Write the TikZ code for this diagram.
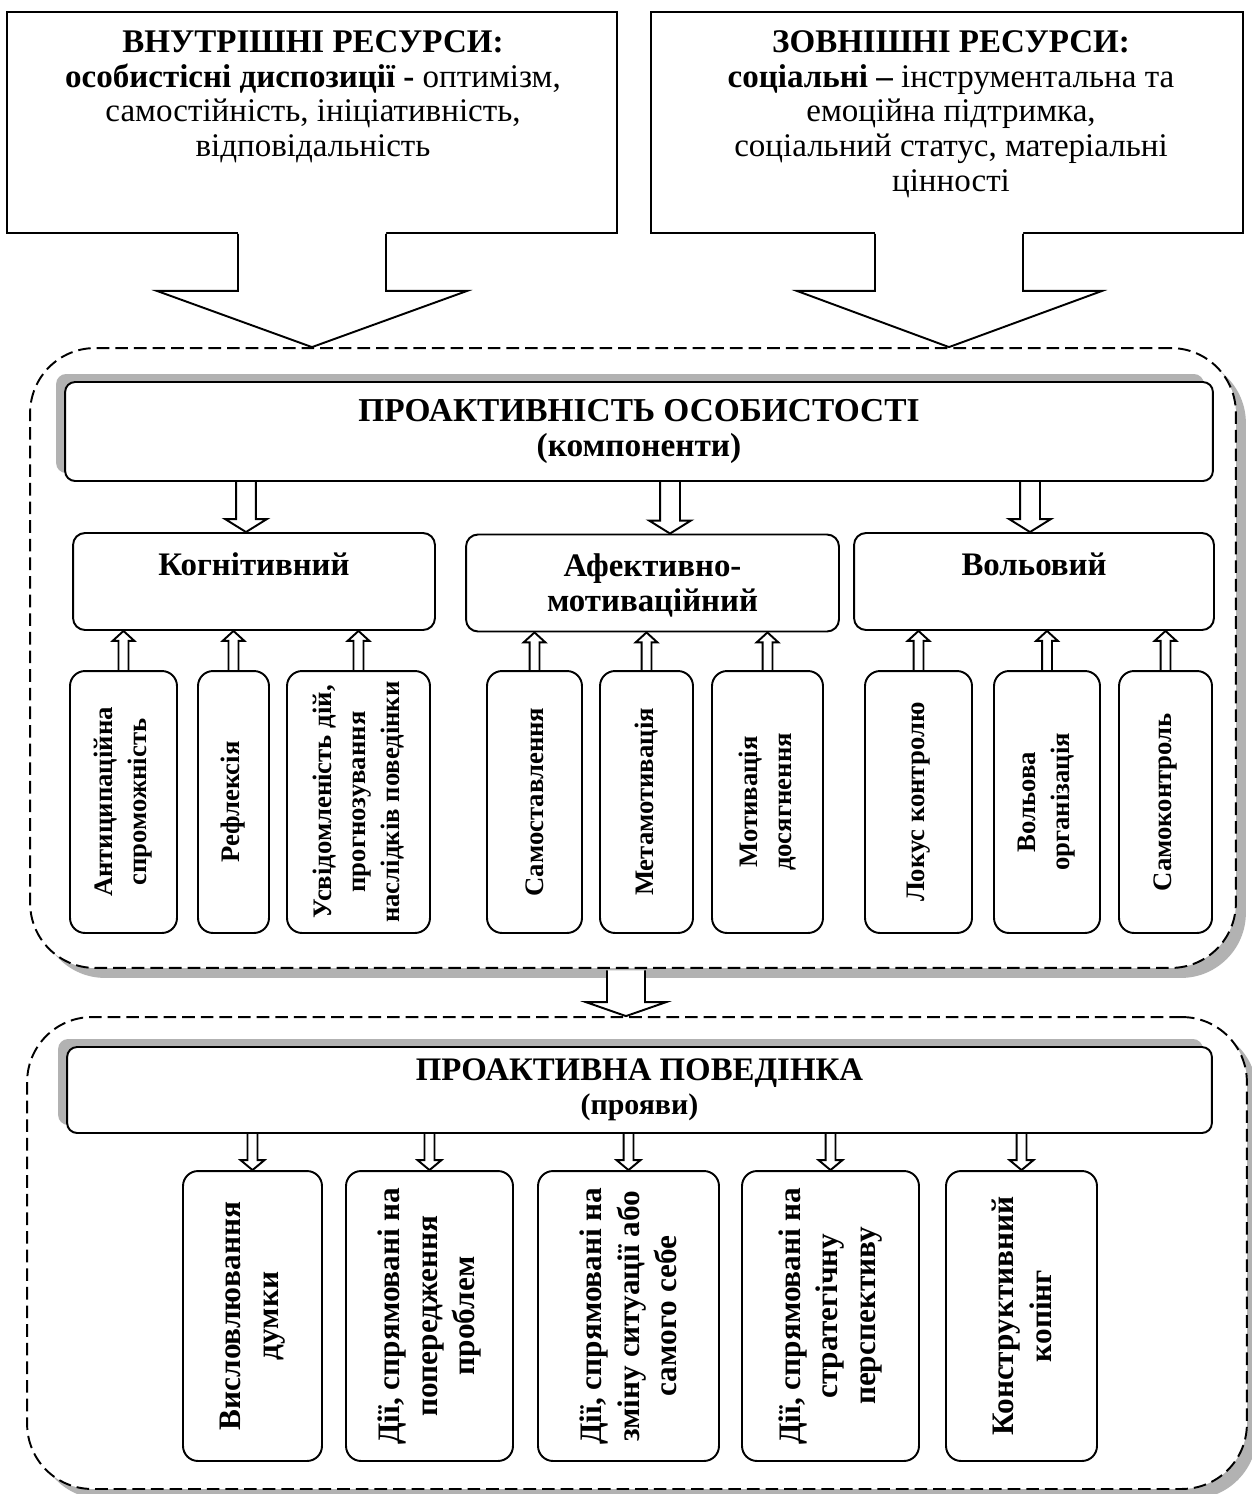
\documentclass[tikz,border=0pt]{standalone}
\usepackage{fontspec}
\setmainfont{Liberation Serif}
\usetikzlibrary{calc,shadows}
\newcommand{\fsz}[2]{\fontsize{#1}{#2}\selectfont}
\newcommand{\blockarrow}[6][]{%
  \draw[barr,#1] let \p1=#2, \p2=#3, \n1={sign(\y2-\y1)} in
    ({\x2-#4},{\y1}) -- ({\x2-#4},{\y2-(\n1)*#6}) -- ({\x2-#5},{\y2-(\n1)*#6}) -- (\x2,\y2)
    -- ({\x2+#5},{\y2-(\n1)*#6}) -- ({\x2+#4},{\y2-(\n1)*#6}) -- ({\x2+#4},{\y1});}
\tikzset{
 box/.style={draw, line width=1.1pt, fill=white, inner sep=0pt},
 topbox/.style={box, minimum height=4.42cm},
 toptxt/.style={align=center, inner sep=0pt, font=\fsz{18.8}{19.8}},
 hdr/.style={box, rounded corners=0.2cm, align=center,
   drop shadow={shadow xshift=-0.18cm, shadow yshift=0.16cm, opacity=1, fill=black!30}},
 comp/.style={box, rounded corners=0.24cm, minimum height=1.94cm},
 comptxt/.style={align=center, inner sep=0pt, font=\fsz{18.7}{19.8}\bfseries},
 leaf/.style={box, rounded corners=0.3cm},
 leafA/.style={leaf, minimum height=5.24cm},
 leafB/.style={leaf, minimum height=5.8cm},
 leaftxtA/.style={rotate=90, align=center, inner sep=0pt, font=\fsz{15.2}{19.3}\bfseries},
 leaftxtB/.style={rotate=90, align=center, inner sep=0pt, font=\fsz{17.8}{21.5}\bfseries},
 cont/.style={draw, line width=1.1pt, dash pattern=on 7.2pt off 3.4pt, fill=white,
   rounded corners=1.3cm, inner sep=0pt,
   drop shadow={shadow xshift=0.2cm, shadow yshift=-0.2cm, opacity=1, fill=black!30}},
 barr/.style={draw, line width=1.1pt, line join=miter},
}
\begin{document}
\begin{tikzpicture}[x=0.02cm,y=-0.02cm]
\useasboundingbox[fill=white] (0,0) rectangle (1251,1494);

% containers
\node[cont, minimum width=24.12cm, minimum height=12.4cm] (cont1) at (633,658) {};
\node[cont, minimum width=24.4cm, minimum height=9.44cm] (cont2) at (637,1253) {};

% top resource boxes
\node[topbox, minimum width=12.2cm] (inres) at (312,122.5) {};
\node[toptxt, anchor=north] (inrestxt) at (313,30) {{\bfseries ВНУТРІШНІ РЕСУРСИ:}\\
  {\bfseries особистісні диспозиції -} оптимізм,\\
  самостійність, ініціативність,\\
  відповідальність};
\node[topbox, minimum width=11.84cm] (exres) at (947,122.5) {};
\node[toptxt, anchor=north] (exrestxt) at (951,30) {{\bfseries ЗОВНІШНІ РЕСУРСИ:}\\
  {\bfseries соціальні –} інструментальна та\\
  емоційна підтримка,\\
  соціальний статус, матеріальні\\
  цінності};

% callout arrows
\fill[white] ($(inres.south)+(-74,-2)$) -- ++(0,59) -- ++(-81,0) -- (inres.south |- cont1.north)
  -- ($(inres.south)+(155,57)$) -- ++(-81,0) -- ++(0,-59) -- cycle;
\draw[barr] ($(inres.south)+(-74,0)$) -- ++(0,57) -- ++(-81,0) -- (inres.south |- cont1.north)
  -- ($(inres.south)+(155,57)$) -- ++(-81,0) -- ++(0,-57);
\fill[white] ($(exres.south)+(-72,-2)$) -- ++(0,59) -- ++(-78,0) -- ($(exres.south |- cont1.north)+(2,0)$)
  -- ($(exres.south)+(155,57)$) -- ++(-79,0) -- ++(0,-59) -- cycle;
\draw[barr] ($(exres.south)+(-72,0)$) -- ++(0,57) -- ++(-78,0) -- ($(exres.south |- cont1.north)+(2,0)$)
  -- ($(exres.south)+(155,57)$) -- ++(-79,0) -- ++(0,-57);

% header 1
\node[hdr, minimum width=22.96cm, minimum height=1.98cm, font=\fsz{19}{19.8}\bfseries] (prop)
  at (639,431.5) {ПРОАКТИВНІСТЬ ОСОБИСТОСТІ\\(компоненти)};

% components
\node[comp, minimum width=7.24cm] (cog) at (254,581.5) {};
\node[comptxt, anchor=north] (cogt) at ($(cog.north)+(0,20)$) {Когнітивний};
\node[comp, minimum width=7.46cm] (aff) at (652.5,583) {};
\node[comptxt, anchor=north] (afft) at ($(aff.north)+(0,20)$) {Афективно-\\мотиваційний};
\node[comp, minimum width=7.2cm] (vol) at (1034,581.5) {};
\node[comptxt, anchor=north] (volt) at ($(vol.north)+(0,20)$) {Вольовий};

\blockarrow{(prop.south)}{($(cog.north)+(-8,0)$)}{5.67pt}{11.9pt}{7.4pt}
\blockarrow{(prop.south)}{($(aff.north)+(17.5,0)$)}{5.67pt}{11.9pt}{7.4pt}
\blockarrow{(prop.south)}{($(vol.north)+(-4,0)$)}{5.67pt}{11.9pt}{7.4pt}

% leaves row 1
\node[leafA, minimum width=2.14cm] (ant) at (123.5,802) {};
\node[leaftxtA] (antt) at (ant.center) {Антиципаційна\\спроможність};
\node[leafA, minimum width=1.42cm] (ref) at (233.5,802) {};
\node[leaftxtA] (reft) at (ref.center) {Рефлексія};
\node[leafA, minimum width=2.86cm] (usv) at (358.5,802) {};
\node[leaftxtA] (usvt) at (usv.center) {Усвідомленість дій,\\прогнозування\\наслідків поведінки};
\node[leafA, minimum width=1.9cm] (sst) at (534.5,802) {};
\node[leaftxtA] (sstt) at (sst.center) {Самоставлення};
\node[leafA, minimum width=1.86cm] (met) at (646.5,802) {};
\node[leaftxtA] (mett) at (met.center) {Метамотивація};
\node[leafA, minimum width=2.22cm] (mot) at (767.5,802) {};
\node[leaftxtA] (mott) at (mot.center) {Мотивація\\досягнення};
\node[leafA, minimum width=2.14cm] (lok) at (918.5,802) {};
\node[leaftxtA] (lokt) at (lok.center) {Локус контролю};
\node[leafA, minimum width=2.12cm] (vor) at (1047,802) {};
\node[leaftxtA] (vort) at (vor.center) {Вольова\\організація};
\node[leafA, minimum width=1.86cm] (skn) at (1165.5,802) {};
\node[leaftxtA] (sknt) at (skn.center) {Самоконтроль};

\foreach \l/\c in {ant/cog, ref/cog, usv/cog, sst/aff, met/aff, mot/aff, lok/vol, vor/vol, skn/vol}{
  \blockarrow{(\l.north)}{(\c.south -| \l.north)}{2.83pt}{6.2pt}{5.67pt}
}

% between containers
\blockarrow[fill=white]{($(cont1.south)+(0,1.5)$)}{($(cont2.north)+(-11,0)$)}{10.8pt}{22.7pt}{7.9pt}

% header 2
\node[hdr, minimum width=22.9cm, minimum height=1.72cm, font=\fsz{18.7}{19.3}\bfseries] (beh)
  at (639.5,1090) {ПРОАКТИВНА ПОВЕДІНКА\\{\fsz{17}{19.3}(прояви)}};

% leaves row 2
\node[leafB, minimum width=2.78cm] (vys) at (252.5,1316) {};
\node[leaftxtB] (vyst) at (vys.center) {Висловлювання\\думки};
\node[leafB, minimum width=3.34cm] (pop) at (429.5,1316) {};
\node[leaftxtB] (popt) at (pop.center) {Дії, спрямовані на\\попередження\\проблем};
\node[leafB, minimum width=3.62cm] (zmi) at (628.5,1316) {};
\node[leaftxtB] (zmit) at (zmi.center) {Дії, спрямовані на\\зміну ситуації або\\самого себе};
\node[leafB, minimum width=3.54cm] (str) at (830.5,1316) {};
\node[leaftxtB] (strt) at (str.center) {Дії, спрямовані на\\стратегічну\\перспективу};
\node[leafB, minimum width=3.02cm] (kop) at (1021.5,1316) {};
\node[leaftxtB] (kopt) at (kop.center) {Конструктивний\\копінг};

\foreach \l in {vys, pop, zmi, str, kop}{
  \blockarrow{(beh.south)}{(\l.north)}{2.83pt}{6.8pt}{5.67pt}
}
\end{tikzpicture}
\end{document}
